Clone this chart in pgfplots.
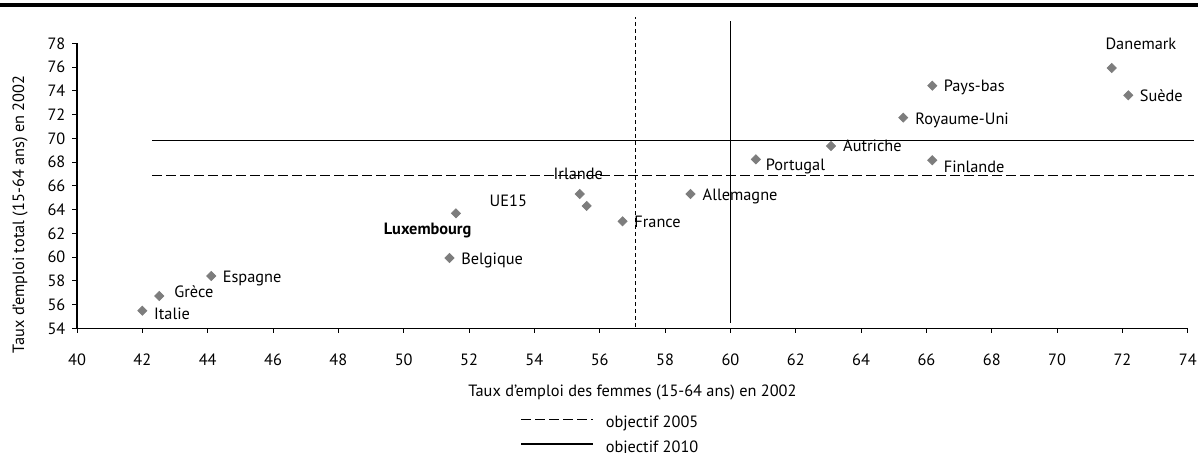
\documentclass[border=0pt]{standalone}
\usepackage{pgfplots}
\pgfplotsset{compat=1.18}
\usepackage{fontspec}
\setmainfont{PT Sans}
\definecolor{mk}{RGB}{125,125,125}
\pgfplotstableread{
x y
42.0 55.48
42.52 56.72
44.11 58.40
51.60 63.68
51.40 59.92
55.39 65.31
55.60 64.30
56.70 63.01
58.78 65.31
60.78 68.23
63.08 69.35
66.18 68.15
65.29 71.74
66.18 74.43
71.67 75.92
72.18 73.62
}\points
\newcommand{\lf}{\fontsize{8.2}{9.5}\selectfont}
\begin{document}
\begin{tikzpicture}
\begin{axis}[
  x=16.335bp, y=5.9375bp,
  xmin=40, xmax=74, ymin=54, ymax=78,
  axis lines=left,
  axis line style={-, line width=0.6bp, black},
  xtick={40,42,...,74}, ytick={54,56,...,78},
  tick align=outside, major tick length=2.3bp,
  tick style={black, line width=0.5bp},
  ticklabel style={font=\lf},
  xticklabel style={yshift=-7bp},
  /pgf/number format/assume math mode=true,
  clip=false,
  xlabel={Taux d'emploi des femmes (15-64 ans) en 2002},
  label style={font=\lf},
  xlabel style={at={(rel axis cs:0.5,-0.224)}, anchor=center},
  legend style={at={(rel axis cs:0.399,-0.293)}, anchor=north west, draw=none, fill=none, font=\lf, row sep=1bp, inner sep=0pt, cells={anchor=west}},
  legend image code/.code={\draw[#1] (0bp,2bp) -- (36bp,2bp); \path (40bp,0bp);},
]
\addplot[only marks, mark=square*, mark size=1.6bp, mark options={rotate=45, fill=mk, draw=mk}, forget plot] table {\points};
\addplot[black, line width=0.6bp, dash pattern=on 5bp off 2bp] coordinates {(42.3,66.9) (74.2,66.9)};
\addlegendentry{objectif 2005}
\addplot[black, line width=0.6bp] coordinates {(42.3,69.8) (74.2,69.8)};
\addlegendentry{objectif 2010}
\addplot[black, line width=0.6bp, dash pattern=on 2bp off 1.5bp, forget plot] coordinates {(57.1,54.13) (57.1,80.2)};
\addplot[black, line width=0.6bp, forget plot] coordinates {(60.0,54.47) (60.0,79.9)};
\coordinate (ll) at (axis cs:40,54);
\node[rotate=90, font=\lf, anchor=center, inner sep=0pt] at (axis cs:38.26,63.6) {Taux d'emploi total (15-64 ans) en 2002};
\begin{scope}[every node/.style={font=\lf, anchor=base west, inner sep=0pt}]
\node at (axis cs:42.35,54.70) {Italie};
\node at (axis cs:42.97,56.58) {Grèce};
\node at (axis cs:44.45,57.87) {Espagne};
\node[font=\lf\bfseries] at (axis cs:49.38,61.86) {Luxembourg};
\node at (axis cs:51.75,59.41) {Belgique};
\node at (axis cs:52.62,64.24) {UE15};
\node at (axis cs:54.58,66.57) {Irlande};
\node at (axis cs:57.05,62.53) {France};
\node at (axis cs:59.14,64.80) {Allemagne};
\node at (axis cs:61.07,67.25) {Portugal};
\node at (axis cs:63.44,68.87) {Autriche};
\node at (axis cs:66.52,67.14) {Finlande};
\node at (axis cs:65.65,71.20) {Royaume-Uni};
\node at (axis cs:66.52,73.98) {Pays-bas};
\node at (axis cs:71.47,77.44) {Danemark};
\node at (axis cs:72.52,73.14) {Suède};
\end{scope}
\end{axis}
\pgfresetboundingbox
\path[use as bounding box] ([shift={(-38.5bp,164.15bp)}]ll) rectangle ([shift={(560.5bp,-62.35bp)}]ll);
\draw[line width=2bp] ([shift={(-40bp,161.5bp)}]ll) -- ([shift={(562bp,161.5bp)}]ll);
\end{tikzpicture}
\end{document}
